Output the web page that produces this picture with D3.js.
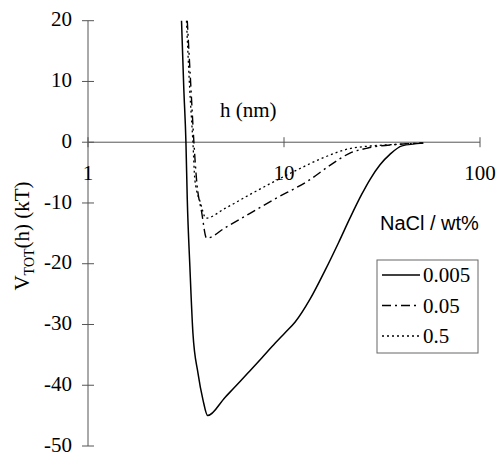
<!DOCTYPE html>
<html>
<head>
<meta charset="utf-8">
<script src="https://cdn.jsdelivr.net/npm/d3@7"></script>
<style>
  html, body { margin: 0; padding: 0; background: #fff; }
  svg { display: block; }
</style>
</head>
<body>
<svg id="chart" width="497" height="454"></svg>
<script>
// Total interaction energy V_TOT(h) versus separation h for three NaCl concentrations
const saltLabels = ["0.005", "0.05", "0.5"];

const h005 = [3.0, 3.08, 3.16, 3.21, 3.31, 3.43, 3.64, 3.86, 4.08, 5.0, 6.0, 6.71, 7.7, 9.0, 10.1, 11.4, 13.6, 16.2, 19, 21.7, 24.9, 27.5, 30.9, 34.7, 40, 51.4];
const v005 = [20, 9, 0, -9.4, -20.5, -31.4, -38, -42.4, -45, -42.0, -39.3, -37.6, -35.5, -33.1, -31.4, -29.6, -25.8, -21.1, -16.5, -12.5, -8.6, -6.1, -3.7, -2, -0.6, -0.15];

const h05 = [3.21, 3.35, 3.47, 3.58, 3.8, 4.03, 5.0, 6.71, 8.79, 13.5, 17, 21.7, 26.8, 40.5, 51.3];
const v05 = [20, 9, 0, -6.2, -11.5, -15.8, -14.1, -11.7, -9.5, -6.2, -3.9, -1.8, -0.95, -0.3, -0.13];

const h5 = [3.18, 3.3, 3.43, 3.51, 3.75, 4.0, 5.0, 6.71, 11.6, 16, 22.5, 40.5, 51.3];
const v5 = [20, 9, 0, -6.2, -10, -12.5, -10.9, -8.6, -4.6, -2.5, -0.95, -0.3, -0.13];

const xTicks = [1, 10, 100];
const yTicks = [20, 10, 0, -10, -20, -30, -40, -50];

const series = [
  { name: saltLabels[0], h: h005, v: v005, dash: null, width: 1.5 },
  { name: saltLabels[1], h: h05,  v: v05,  dash: "9,4,2,4", width: 1.4 },
  { name: saltLabels[2], h: h5,   v: v5,   dash: "2,3", width: 1.3 }
];

const svg = d3.select("#chart");
const serif = "'Liberation Serif', 'Times New Roman', serif";
const sans = "'Liberation Sans', Arial, sans-serif";

const x = d3.scaleLog().domain([1, 100]).range([88, 480]);
const y = d3.scaleLinear().domain([-50, 20]).range([446, 20.7]);

const axisColor = "#555";

// vertical axis with crossing tick marks
const yAxisG = svg.append("g").attr("transform", `translate(${x(1)},0)`);
yAxisG.append("line").attr("y1", y(20)).attr("y2", y(-50)).attr("stroke", axisColor).attr("stroke-width", 1);
yAxisG.selectAll("line.tick").data(yTicks).join("line")
  .attr("class", "tick")
  .attr("x1", -6).attr("x2", 6)
  .attr("y1", d => y(d)).attr("y2", d => y(d))
  .attr("stroke", axisColor).attr("stroke-width", 1);
svg.selectAll("text.ylab").data(yTicks).join("text")
  .attr("class", "ylab")
  .attr("x", 72).attr("y", d => y(d)).attr("dy", "0.27em")
  .attr("text-anchor", "end")
  .attr("font-family", serif).attr("font-size", 21)
  .text(d => d);

// horizontal axis at V = 0
const xAxisG = svg.append("g").attr("transform", `translate(0,${y(0)})`);
xAxisG.append("line").attr("x1", x(1)).attr("x2", x(100)).attr("stroke", axisColor).attr("stroke-width", 1);
xAxisG.selectAll("line.tick").data(xTicks).join("line")
  .attr("class", "tick")
  .attr("x1", d => x(d)).attr("x2", d => x(d))
  .attr("y1", -5).attr("y2", 5)
  .attr("stroke", axisColor).attr("stroke-width", 1);
svg.selectAll("text.xlab").data(xTicks).join("text")
  .attr("class", "xlab")
  .attr("x", d => x(d)).attr("y", 180)
  .attr("text-anchor", "middle")
  .attr("font-family", serif).attr("font-size", 21)
  .text(d => d);

// axis titles
svg.append("text")
  .attr("x", 220).attr("y", 117)
  .attr("font-family", serif).attr("font-size", 21)
  .text("h (nm)");

const yTitle = svg.append("text")
  .attr("transform", "translate(29,236) rotate(-90)")
  .attr("text-anchor", "middle")
  .attr("font-family", serif).attr("font-size", 21);
yTitle.append("tspan").text("V");
yTitle.append("tspan").attr("font-size", 14).attr("dy", 5).text("TOT");
yTitle.append("tspan").attr("dy", -5).text("(h) (kT)");

// curves, smoothed along the log-h axis
const lineGen = d3.line()
  .x(d => x(d[0]))
  .y(d => y(d[1]))
  .curve(d3.curveMonotoneX);

svg.selectAll("path.curve").data(series).join("path")
  .attr("class", "curve")
  .attr("d", s => lineGen(s.h.map((h, i) => [h, s.v[i]])))
  .attr("fill", "none")
  .attr("stroke", "#000")
  .attr("stroke-width", s => s.width)
  .attr("stroke-dasharray", s => s.dash)
  .attr("stroke-linejoin", "round");

// legend
svg.append("text")
  .attr("x", 380).attr("y", 230)
  .attr("font-family", sans).attr("font-size", 20)
  .text("NaCl / wt%");

const legX = 377, legY = 260, legW = 101, legH = 93;
svg.append("rect")
  .attr("x", legX).attr("y", legY).attr("width", legW).attr("height", legH)
  .attr("fill", "#fff").attr("stroke", "#666").attr("stroke-width", 1);

const legItems = svg.selectAll("g.leg").data(series).join("g")
  .attr("class", "leg")
  .attr("transform", (s, i) => `translate(0,${275 + i * 30.5})`);
legItems.append("line")
  .attr("x1", 382).attr("x2", 420)
  .attr("stroke", "#000")
  .attr("stroke-width", s => s.width)
  .attr("stroke-dasharray", s => s.dash);
legItems.append("text")
  .attr("x", 423).attr("dy", "0.35em")
  .attr("font-family", serif).attr("font-size", 21)
  .text(s => s.name);
</script>
</body>
</html>
